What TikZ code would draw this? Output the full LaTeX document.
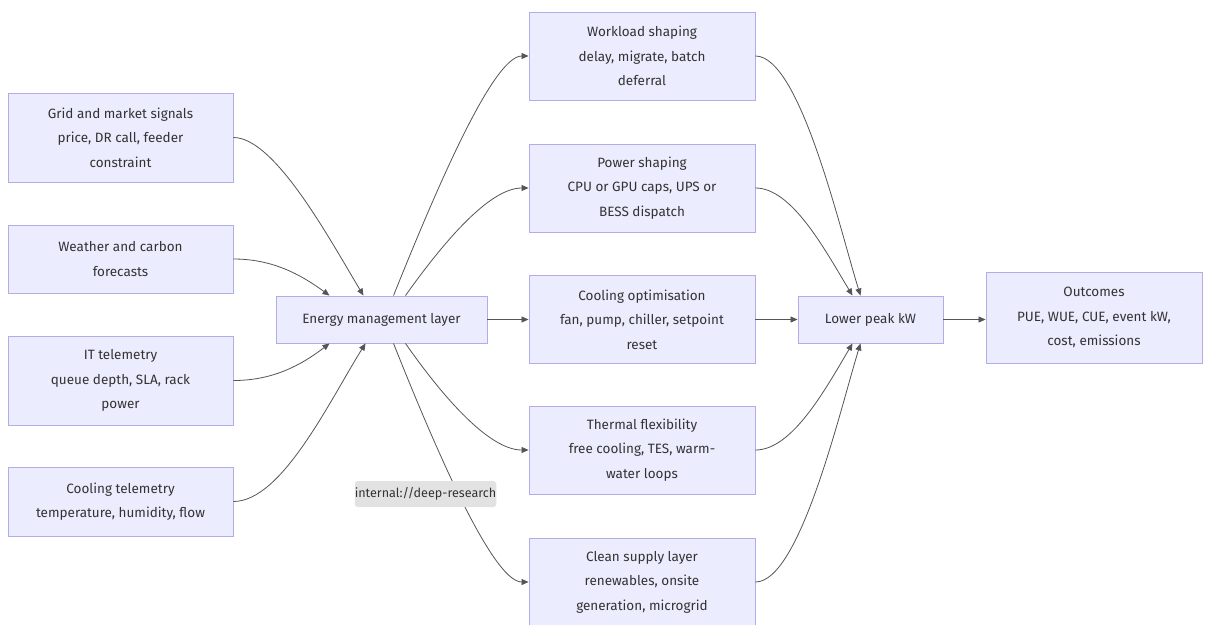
\documentclass[tikz,border=0pt]{standalone}
\usepackage{fontspec}
\setmainfont{Fira Sans}
\usetikzlibrary{arrows.meta,calc}
\definecolor{boxfill}{HTML}{ECECFF}
\definecolor{boxdraw}{HTML}{B4ACE6}
\definecolor{edgecol}{HTML}{555555}
\definecolor{txt}{HTML}{333333}
\definecolor{tagfill}{HTML}{E2E2E2}
\begin{document}
\begin{tikzpicture}[x=1pt,y=-1pt,
  box/.style={draw=boxdraw, fill=boxfill, line width=0.9pt, inner sep=0pt, align=center,
    text=txt, font=\fontsize{13.5}{24.5}\selectfont},
  flow/.style={draw=edgecol, line width=0.8pt, -{Triangle[length=7pt,width=6pt]}},
  tag/.style={fill=tagfill, rounded corners=3pt, inner sep=0pt, minimum width=140, minimum height=26,
    text=txt, font=\fontsize{12.6}{15}\selectfont}]
\useasboundingbox (0,0) rectangle (1206,624);
\fill[white] (0,0) rectangle (1206,624);

% left column
\node[box, minimum width=225, minimum height=89] (grid) at (120.5,137.5) {Grid and market signals\\price, DR call, feeder\\constraint};
\node[box, minimum width=225, minimum height=68] (weather) at (120.5,259) {Weather and carbon\\forecasts};
\node[box, minimum width=225, minimum height=89] (it) at (120.5,380.5) {IT telemetry\\queue depth, SLA, rack\\power};
\node[box, minimum width=225, minimum height=69] (cooltel) at (120.5,501.5) {Cooling telemetry\\temperature, humidity, flow};

% centre
\node[box, minimum width=211, minimum height=47] (em) at (381.5,319.5) {Energy management layer};

% middle column
\node[box, minimum width=226, minimum height=88] (work) at (642,56) {Workload shaping\\delay, migrate, batch\\deferral};
\node[box, minimum width=226, minimum height=88] (power) at (642,188) {Power shaping\\CPU or GPU caps, UPS or\\BESS dispatch};
\node[box, minimum width=226, minimum height=88] (coolopt) at (642,319.5) {Cooling optimisation\\fan, pump, chiller, setpoint\\reset};
\node[box, minimum width=226, minimum height=88] (thermal) at (642,450) {Thermal flexibility\\free cooling, TES, warm-\\water loops};
\node[box, minimum width=226, minimum height=88] (clean) at (642,582) {Clean supply layer\\renewables, onsite\\generation, microgrid};

% right
\node[box, minimum width=145, minimum height=47] (peak) at (870.5,319.5) {Lower peak kW};
\node[box, minimum width=216, minimum height=91] (out) at (1094,317.5) {Outcomes\\PUE, WUE, CUE, event kW,\\cost, emissions};

% edges into energy management layer
\draw[flow] (grid.east) .. controls (275,137.5) and (330,240) .. ([xshift=-18]em.north);
\draw[flow] (weather.east) .. controls (272,259) and (300,274) .. ([xshift=-52]em.north);
\draw[flow] (it.east) .. controls (272,380.5) and (300,366) .. ([xshift=-52]em.south);
\draw[flow] (cooltel.east) .. controls (282,501.5) and (330,400) .. ([xshift=-16]em.south);

% edges out of energy management layer
\draw[flow] ([xshift=12]em.north) .. controls (432,200) and (492,56) .. (work.west);
\draw[flow] ([xshift=24]em.north) .. controls (445,240) and (490,188) .. (power.west);
\draw[flow] (em.east) -- (coolopt.west);
\draw[flow] ([xshift=24]em.south) .. controls (445,400) and (490,450) .. (thermal.west);
\draw[flow] ([xshift=12]em.south) .. controls (432,440) and (492,582) .. (clean.west);

% edges into lower peak
\draw[flow] (work.east) .. controls (800,56) and (840,230) .. ([xshift=-10]peak.north);
\draw[flow] (power.east) .. controls (792,188) and (825,250) .. ([xshift=-18]peak.north);
\draw[flow] (coolopt.east) -- (peak.west);
\draw[flow] (thermal.east) .. controls (792,450) and (825,390) .. ([xshift=-18]peak.south);
\draw[flow] (clean.east) .. controls (800,582) and (840,410) .. ([xshift=-10]peak.south);
\draw[flow] (peak.east) -- (peak.east -| out.west);

% tag
\node[tag] (label) at (425.5,494) {internal://deep-research};
\end{tikzpicture}
\end{document}
